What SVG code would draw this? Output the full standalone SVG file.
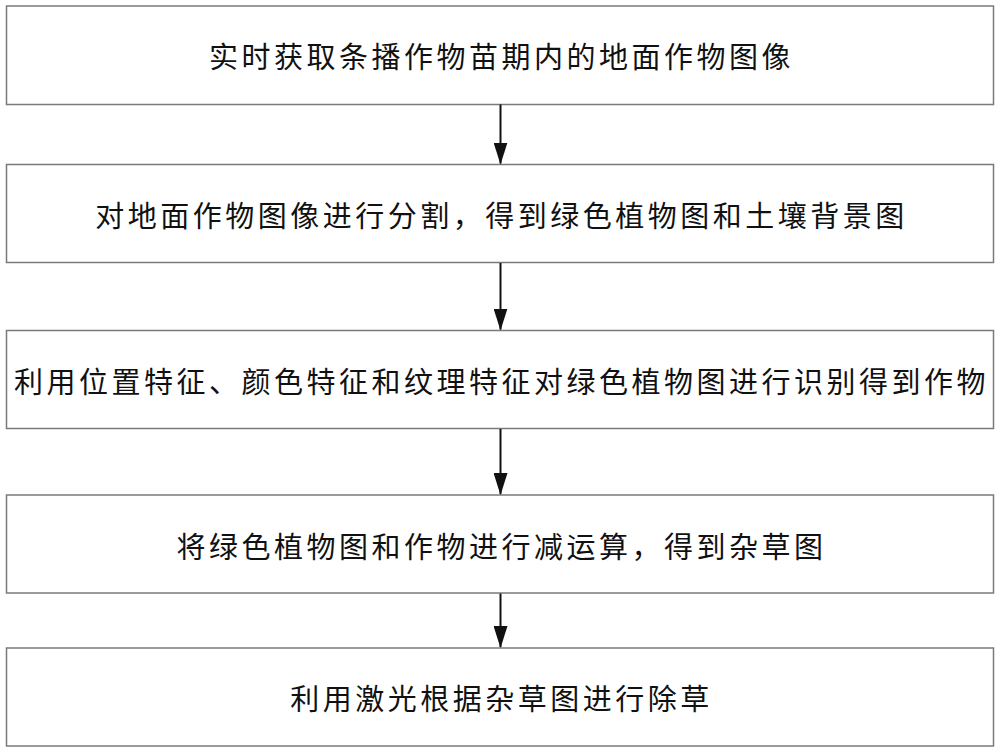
<svg xmlns="http://www.w3.org/2000/svg" width="1000" height="753" viewBox="0 0 1000 753">
<defs>
<style>
.box{fill:#fff;stroke:#7a7a7a;stroke-width:1.5}
.t{font-family:"Noto Sans CJK SC",sans-serif;font-size:29px;letter-spacing:3.5px;fill:#111;text-anchor:middle;dominant-baseline:central}
.c{stroke:#111;stroke-width:2;fill:none}
</style>
<marker id="ah" markerUnits="userSpaceOnUse" markerWidth="22" markerHeight="14" refX="21" refY="7" orient="auto" viewBox="0 0 22 14">
<path d="M0,0 L22,7 L0,14 z" fill="#111"/>
</marker>
</defs>
<rect width="1000" height="753" fill="#fff"/>
<g id="n1"><rect class="box" x="6.5" y="6" width="987" height="98.5"/><text class="t" x="501.5" y="55">实时获取条播作物苗期内的地面作物图像</text></g>
<g id="n2"><rect class="box" x="6.5" y="164.5" width="987" height="98"/><text class="t" x="501.5" y="214">对地面作物图像进行分割，得到绿色植物图和土壤背景图</text></g>
<g id="n3"><rect class="box" x="6.5" y="330.5" width="987" height="98"/><text class="t" x="501.5" y="380">利用位置特征、颜色特征和纹理特征对绿色植物图进行识别得到作物</text></g>
<g id="n4"><rect class="box" x="6.5" y="495" width="987" height="98"/><text class="t" x="501.5" y="545">将绿色植物图和作物进行减运算，得到杂草图</text></g>
<g id="n5"><rect class="box" x="6.5" y="648" width="987" height="98"/><text class="t" x="501.5" y="697">利用激光根据杂草图进行除草</text></g>
<g id="connectors">
<line class="c" x1="500.5" y1="104.5" x2="500.5" y2="163.5" marker-end="url(#ah)"/>
<line class="c" x1="500.5" y1="263" x2="500.5" y2="329.5" marker-end="url(#ah)"/>
<line class="c" x1="500.5" y1="429" x2="500.5" y2="494" marker-end="url(#ah)"/>
<line class="c" x1="500.5" y1="593.5" x2="500.5" y2="647" marker-end="url(#ah)"/>
</g>
</svg>
